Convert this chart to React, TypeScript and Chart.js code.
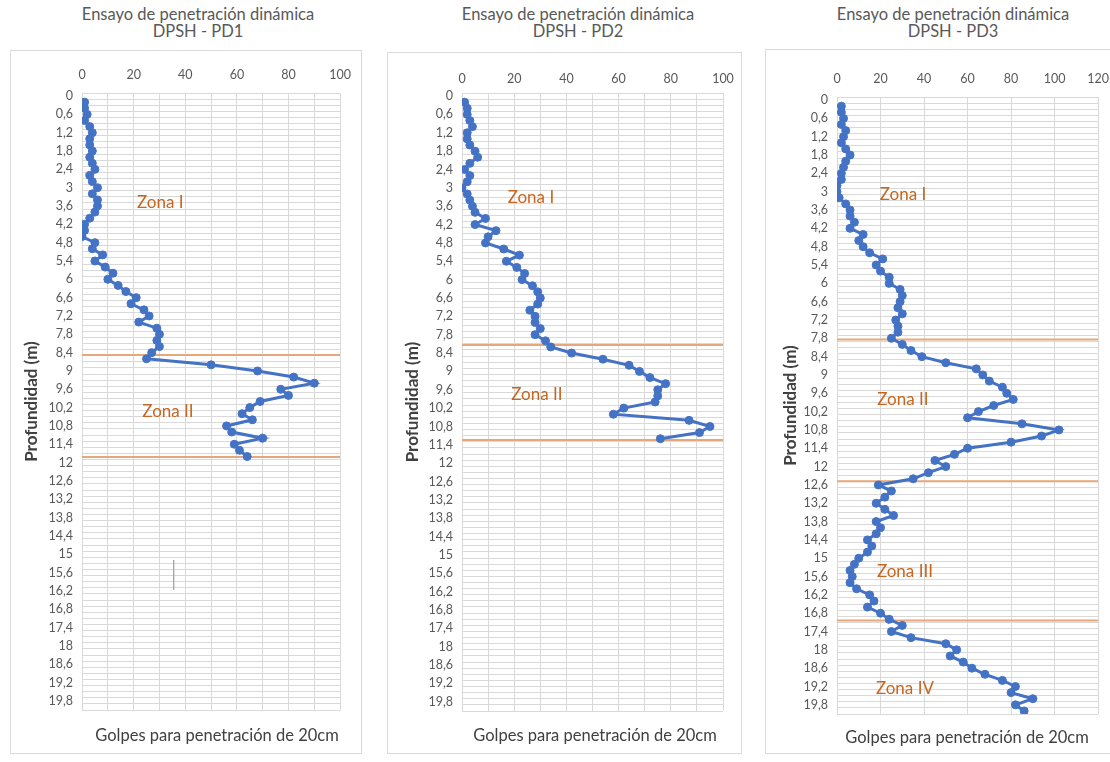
import React, { useEffect, useRef } from 'react';
import { Chart, registerables } from 'chart.js';

Chart.register(...registerables);
Chart.defaults.font.family = 'Lato';

// Depth categories (m)
const depths = [0,0.2,0.4,0.6,0.8,1,1.2,1.4,1.6,1.8,2,2.2,2.4,2.6,2.8,3,3.2,3.4,3.6,3.8,4,4.2,4.4,4.6,4.8,5,5.2,5.4,5.6,5.8,6,6.2,6.4,6.6,6.8,7,7.2,7.4,7.6,7.8,8,8.2,8.4,8.6,8.8,9,9.2,9.4,9.6,9.8,10,10.2,10.4,10.6,10.8,11,11.2,11.4,11.6,11.8,12,12.2,12.4,12.6,12.8,13,13.2,13.4,13.6,13.8,14,14.2,14.4,14.6,14.8,15,15.2,15.4,15.6,15.8,16,16.2,16.4,16.6,16.8,17,17.2,17.4,17.6,17.8,18,18.2,18.4,18.6,18.8,19,19.2,19.4,19.6,19.8,20];
const depthLabels = depths.map((d) => String(d).replace('.', ','));

// Blows per 20 cm, starting at 0.2 m
const pd1Blows = [1,1,2,1,3,4,3,3,4,3,4,5,3,4,6,4,6,6,5,3,1,1,0,5,4,8,5,9,12,10,
  14,17,21,19,24,26,22,29,30,29,30,27,25,50,68,82,90,77,80,69,65,62,66,56,58,70,59,61,64];
const pd2Blows = [1,2,2,3,4,2,2,3,5,6,3,1,3,2,0,2,3,4,5,9,5,13,10,9,16,22,17,21,24,23,27,
  29,30,29,26,28,28,30,28,32,34,42,54,64,68,72,78,75,75,74,62,58,87,95,91,76];
const pd3Blows = [2,2,3,2,4,3,2,4,6,4,3,2,2,0,0,1,4,6,6,8,6,12,10,12,15,21,18,20,24,24,29,30,29,
  28,30,27,28,28,25,30,34,39,50,64,67,70,76,78,81,72,65,60,85,102,94,80,60,54,45,50,42,35,19,25,22,18,22,26,
  18,20,18,14,16,14,10,8,6,7,6,9,15,17,14,20,24,30,25,34,50,55,52,58,62,68,76,82,80,90,82,86];

// Zone boundary depths (m)
const pd1Zones = [8.48, 11.82];
const pd2Zones = [8.14, 11.24];
const pd3Zones = [7.84, 12.48, 17.04];

// Zone labels: [text, blows, depth]
const pd1ZoneLabels: [string, number, number][] = [['Zona I', 30.3, 3.5], ['Zona II', 33.3, 10.34]];
const pd2ZoneLabels: [string, number, number][] = [['Zona I', 26.4, 3.3], ['Zona II', 28.7, 9.77]];
const pd3ZoneLabels: [string, number, number][] = [['Zona I', 30.3, 3.08], ['Zona II', 30.3, 9.79], ['Zona III', 31.2, 15.45], ['Zona IV', 31.2, 19.25]];

// small stray mark in PD1
const pd1MarkX = 35.5;
const pd1MarkDepths = [15.19, 16.17];

const titleLine1 = 'Ensayo de penetración dinámica';
const xTitle = 'Golpes para penetración de 20cm';
const yTitle = 'Profundidad (m)';

type Cfg = {
  name: string;
  blows: number[];
  zones: number[];
  zoneLabels: [string, number, number][];
  xMax: number;
  xStep: number;
  box: { l: number; t: number; r: number; b: number };
  plot: { l: number; t: number; r: number; b: number };
  yTitlePad: number;
  xTickPad: number;
  titleX: number;
  xTitleX: number;
  xTitleY: number;
  mark?: boolean;
  rightBorder: boolean;
};

const panels: Cfg[] = [
  {
    name: 'DPSH - PD1', blows: pd1Blows, zones: pd1Zones, zoneLabels: pd1ZoneLabels, xMax: 100, xStep: 10,
    box: { l: 10, t: 50, r: 362, b: 754 }, plot: { l: 82, t: 93, r: 346, b: 710 },
    yTitlePad: 11, xTickPad: 11, titleX: 198, xTitleX: 217, xTitleY: 735, mark: true, rightBorder: true,
  },
  {
    name: 'DPSH - PD2', blows: pd2Blows, zones: pd2Zones, zoneLabels: pd2ZoneLabels, xMax: 100, xStep: 10,
    box: { l: 387, t: 52, r: 742, b: 754 }, plot: { l: 462, t: 93, r: 723, b: 711 },
    yTitlePad: 15, xTickPad: 7, titleX: 578, xTitleX: 595, xTitleY: 735, rightBorder: true,
  },
  {
    name: 'DPSH - PD3', blows: pd3Blows, zones: pd3Zones, zoneLabels: pd3ZoneLabels, xMax: 120, xStep: 20,
    box: { l: 765, t: 49, r: 1120, b: 754 }, plot: { l: 837, t: 97, r: 1102, b: 714 },
    yTitlePad: 15, xTickPad: 11, titleX: 953, xTitleX: 967, xTitleY: 737, rightBorder: false,
  },
];

function Panel({ cfg }: { cfg: Cfg }) {
  const ref = useRef<HTMLCanvasElement>(null);
  useEffect(() => {
    const canvas = ref.current;
    if (!canvas) return;
    const { box, plot } = cfg;
    const datasets: any[] = [
      {
        data: cfg.blows.map((b, i) => ({ x: b, y: depths[i + 1] })),
        borderColor: '#4472C4',
        backgroundColor: '#4472C4',
        pointBackgroundColor: '#4472C4',
        pointBorderColor: '#4472C4',
        borderWidth: 3,
        pointRadius: 4,
        pointBorderWidth: 1,
        showLine: true,
        order: 0,
        xAxisID: 'x',
        yAxisID: 'yd',
      },
      ...cfg.zones.map((z) => ({
        data: [{ x: 0, y: z }, { x: cfg.xMax, y: z }],
        borderColor: '#E6A77A',
        borderWidth: 2,
        pointRadius: 0,
        showLine: true,
        order: 1,
        xAxisID: 'x',
        yAxisID: 'yd',
      })),
    ];
    if (cfg.mark) {
      datasets.push({
        data: pd1MarkDepths.map((d) => ({ x: pd1MarkX, y: d })),
        borderColor: '#A6A6A6',
        borderWidth: 1,
        pointRadius: 0,
        showLine: true,
        order: 2,
        xAxisID: 'x',
        yAxisID: 'yd',
      });
    }
    const textPlugin = {
      id: 'zoneText',
      afterDatasetsDraw(chart: any) {
        const ctx = chart.ctx;
        const xs = chart.scales.x;
        const ys = chart.scales.yd;
        ctx.save();
        ctx.font = '17px Lato';
        ctx.fillStyle = '#C9651E';
        ctx.textAlign = 'center';
        ctx.textBaseline = 'middle';
        cfg.zoneLabels.forEach(([t, vx, vy]) => {
          ctx.fillText(t, xs.getPixelForValue(vx), ys.getPixelForValue(vy));
        });
        ctx.restore();
      },
    };
    const chart = new Chart(canvas, {
      type: 'scatter',
      data: { datasets },
      options: {
        responsive: false,
        animation: false,
        layout: { padding: { left: 0, top: 0, right: box.r - plot.r, bottom: box.b - plot.b } },
        plugins: { legend: { display: false }, tooltip: { enabled: false } },
        scales: {
          x: {
            type: 'linear',
            position: 'top',
            min: 0,
            max: cfg.xMax,
            ticks: {
              stepSize: cfg.xStep,
              color: '#595959',
              font: { family: 'Lato', size: 12.5 },
              padding: cfg.xTickPad,
              maxRotation: 0,
              minRotation: 0,
              autoSkip: false,
              callback: (v: any) => (Number(v) % 20 === 0 ? String(v) : ''),
            },
            grid: { color: '#D9D9D9', drawTicks: false },
            border: { display: false },
            afterFit: (s: any) => { s.height = plot.t - box.t; },
          },
          y: {
            type: 'category',
            labels: depthLabels,
            position: 'left',
            offset: true,
            grid: { offset: true, color: '#D9D9D9', drawTicks: false },
            border: { display: false },
            ticks: {
              autoSkip: false,
              color: '#595959',
              font: { family: 'Lato', size: 12.5 },
              padding: 9,
              callback: (_v: any, i: number) => (i % 3 === 0 ? depthLabels[i] : ''),
            },
            title: {
              display: true,
              text: yTitle,
              color: '#404040',
              font: { family: 'Lato', size: 17, weight: 'bold' },
              padding: { top: cfg.yTitlePad, bottom: 0 },
            },
            afterFit: (s: any) => { s.width = plot.l - box.l; },
          },
          yd: {
            type: 'linear',
            display: false,
            reverse: true,
            min: -0.1,
            max: 20.1,
          },
        },
      } as any,
      plugins: [textPlugin],
    });
    return () => chart.destroy();
  }, [cfg]);

  const { box } = cfg;
  const w = box.r - box.l;
  const h = box.b - box.t;
  return (
    <>
      <div
        style={{
          position: 'absolute', left: cfg.titleX - 200, width: 400, top: 6,
          textAlign: 'center', color: '#595959', fontSize: 16.5, lineHeight: '17px', fontFamily: 'Lato',
        }}
      >
        <div>{titleLine1}</div>
        <div>{cfg.name}</div>
      </div>
      <div
        style={{
          position: 'absolute', left: box.l, top: box.t, width: w, height: h, boxSizing: 'border-box',
          borderTop: '1px solid #D9D9D9', borderLeft: '1px solid #D9D9D9', borderBottom: '1px solid #D9D9D9',
          borderRight: cfg.rightBorder ? '1px solid #D9D9D9' : 'none',
        }}
      />
      <canvas ref={ref} width={w} height={h} style={{ position: 'absolute', left: box.l, top: box.t, width: w, height: h }} />
      <div
        style={{
          position: 'absolute', left: cfg.xTitleX - 200, width: 400, top: cfg.xTitleY - 10,
          textAlign: 'center', color: '#404040', fontSize: 16.5, lineHeight: '20px', fontFamily: 'Lato',
        }}
      >
        {xTitle}
      </div>
    </>
  );
}

export default function App() {
  return (
    <div style={{ position: 'absolute', left: 0, top: 0, width: 1110, height: 762, overflow: 'hidden', background: '#fff' }}>
      {panels.map((p) => (
        <Panel key={p.name} cfg={p} />
      ))}
    </div>
  );
}
